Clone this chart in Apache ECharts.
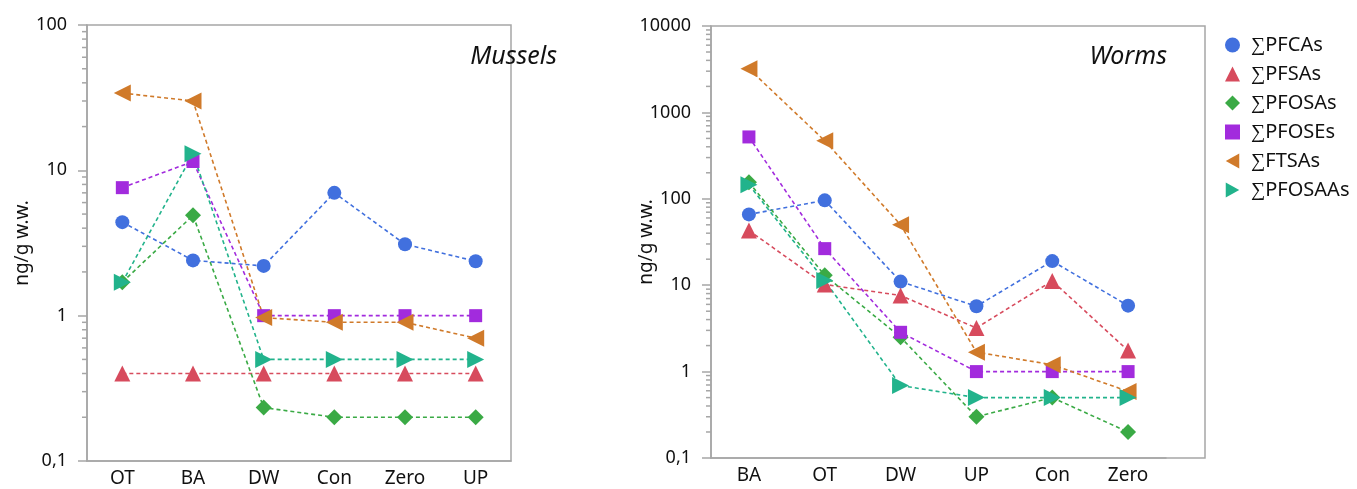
<!DOCTYPE html>
<html><head><meta charset="utf-8">
<script src="https://cdn.jsdelivr.net/npm/echarts@6/dist/echarts.min.js"></script>
<style>html,body{margin:0;padding:0;background:#fff}#c{width:1357px;height:489px}</style>
</head><body><div id="c"></div>
<script>
const seriesNames = ['∑PFCAs','∑PFSAs','∑PFOSAs','∑PFOSEs','∑FTSAs','∑PFOSAAs'];
const colors = ['#4170DE','#D74B5D','#3AAA45','#A22BDD','#D07A2A','#22B38C'];

const musselCats = ['OT','BA','DW','Con','Zero','UP'];
const musselPFCAs   = [4.4, 2.4, 2.2, 7.0, 3.1, 2.37];
const musselPFSAs   = [0.4, 0.4, 0.4, 0.4, 0.4, 0.4];
const musselPFOSAs  = [1.7, 4.9, 0.233, 0.2, 0.2, 0.2];
const musselPFOSEs  = [7.6, 11.5, 1.0, 1.0, 1.0, 1.0];
const musselFTSAs   = [34, 30, 0.97, 0.9, 0.9, 0.7];
const musselPFOSAAs = [1.7, 13, 0.5, 0.5, 0.5, 0.5];

const wormCats = ['BA','OT','DW','UP','Con','Zero'];
const wormPFCAs   = [66, 96, 11, 5.7, 19, 5.8];
const wormPFSAs   = [43, 10.2, 7.6, 3.2, 11.2, 1.75];
const wormPFOSAs  = [155, 13, 2.5, 0.3, 0.5, 0.2];
const wormPFOSEs  = [520, 26.5, 2.85, 1.0, 1.0, 1.0];
const wormFTSAs   = [3200, 470, 50, 1.68, 1.2, 0.59];
const wormPFOSAAs = [145, 11.3, 0.69, 0.5, 0.5, 0.5];

const musselData = [musselPFCAs, musselPFSAs, musselPFOSAs, musselPFOSEs, musselFTSAs, musselPFOSAAs];
const wormData = [wormPFCAs, wormPFSAs, wormPFOSAs, wormPFOSEs, wormFTSAs, wormPFOSAAs];

const symbols = ['circle','triangle','diamond','rect','triangle','triangle'];
const symbolRot = [0,0,0,0,90,-90];
const symbolSizes = [14,16,16,13,17,17];
const legendIcons = ['circle','triangle','diamond','rect','path://M0,5 L9,0 L9,10 Z','path://M9,5 L0,0 L0,10 Z'];

const font = 'Noto Sans';
const axisGray = '#A6A6A6';

function yAxis(gridIndex, min, max) {
  return {
    type: 'log', logBase: 10, gridIndex, min, max,
    name: 'ng/g w.w.', nameLocation: 'middle', nameGap: 55, nameRotate: 90, nameMoveOverlap: false,
    nameTextStyle: {fontFamily: font, fontSize: 19, color: '#111'},
    axisLine: {show: true, lineStyle: {color: axisGray, width: 1.5}},
    axisTick: {show: true, length: 9, lineStyle: {color: axisGray, width: 1.5}},
    splitLine: {show: false},
    axisLabel: {fontFamily: font, fontSize: 18, color: '#111', margin: 20,
      formatter: v => String(v).replace('.', ',')}
  };
}
function xAxis(gridIndex, cats) {
  return {
    type: 'category', gridIndex, data: cats, boundaryGap: true,
    axisLine: {show: true, lineStyle: {color: axisGray, width: 1.5}},
    axisTick: {show: false},
    axisLabel: {fontFamily: font, fontSize: 19, color: '#111', margin: 8}
  };
}

const series = [];
[musselData, wormData].forEach((dataSet, gi) => {
  dataSet.forEach((arr, i) => {
    series.push({
      name: seriesNames[i], type: 'line', xAxisIndex: gi, yAxisIndex: gi,
      data: arr, symbol: symbols[i], symbolRotate: symbolRot[i], symbolSize: symbolSizes[i],
      itemStyle: {color: colors[i]},
      lineStyle: {color: colors[i], width: 1.6, type: [4, 3]},
      showSymbol: true, animation: false, z: 3
    });
  });
});

const chart = echarts.init(document.getElementById('c'), null, {renderer: 'canvas'});
chart.setOption({
  animation: false,
  title: [
    {text: 'Mussels', right: 795, top: 39, textStyle: {fontFamily: font, fontStyle: 'italic', fontWeight: 'normal', fontSize: 25, color: '#111'}},
    {text: 'Worms', right: 185, top: 39, textStyle: {fontFamily: font, fontStyle: 'italic', fontWeight: 'normal', fontSize: 25, color: '#111'}}
  ],
  legend: {
    orient: 'vertical', left: 1220, top: 30, itemGap: 9, itemWidth: 15, itemHeight: 15,
    data: seriesNames.map((n, i) => ({name: n, icon: legendIcons[i], itemStyle: {color: colors[i]}})),
    textStyle: {fontFamily: font, fontSize: 20, color: '#111', padding: [0, 0, 0, 6]},
    selectedMode: false
  },
  grid: [
    {left: 87, top: 25, width: 424, height: 436, show: true, borderColor: axisGray, borderWidth: 1.5, containLabel: false},
    {left: 711, top: 26, width: 455, height: 432, show: false, containLabel: false},
    {left: 711, top: 26, width: 494, height: 432, show: true, borderColor: axisGray, borderWidth: 1.5, containLabel: false}
  ],
  xAxis: [xAxis(0, musselCats), xAxis(1, wormCats)],
  yAxis: [yAxis(0, 0.1, 100), yAxis(1, 0.1, 10000)],
  series
});

// minor ticks at 2..9 of each decade, positioned through the axis scale
function minorTicks() {
  const els = [];
  [[0, 0.1, 100, 87], [1, 0.1, 10000, 711]].forEach(([ai, lo, hi, x]) => {
    for (let d = lo; d < hi * 0.99; d *= 10) {
      for (let k = 2; k <= 9; k++) {
        const v = d * k;
        const y = chart.convertToPixel({yAxisIndex: ai}, v);
        els.push({type: 'line', shape: {x1: x - 5, y1: y, x2: x, y2: y},
          style: {stroke: axisGray, lineWidth: 1.5}, silent: true});
      }
    }
  });
  chart.setOption({graphic: els});
}
minorTicks();
</script></body></html>
